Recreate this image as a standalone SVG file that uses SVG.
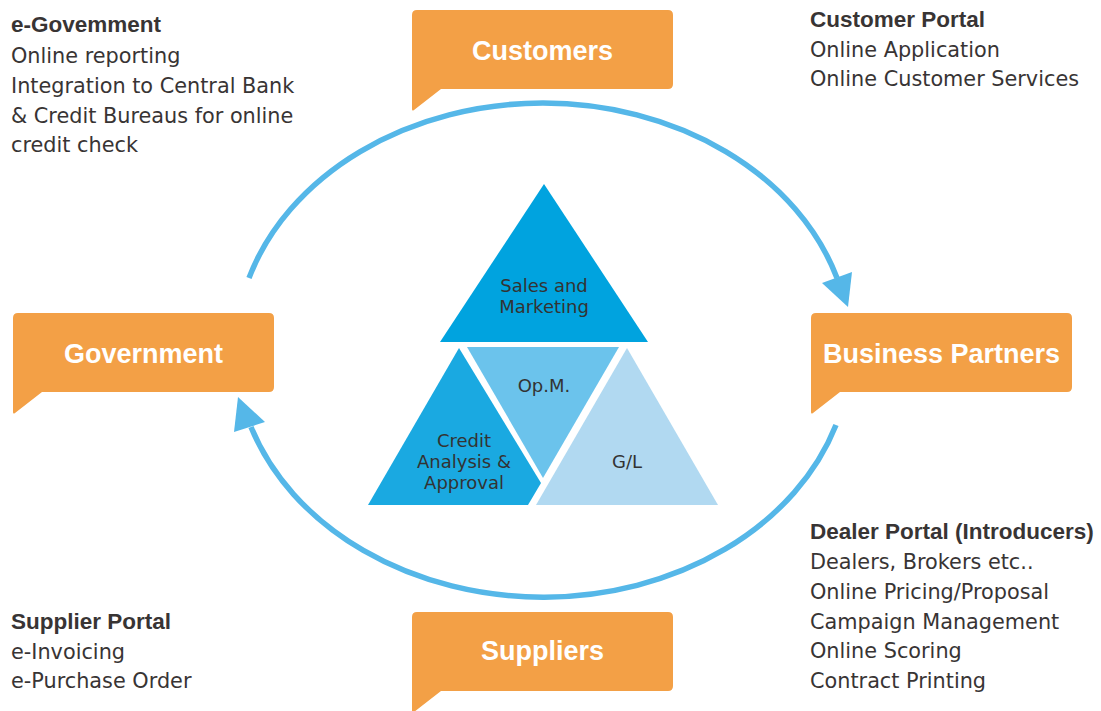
<svg xmlns="http://www.w3.org/2000/svg" width="1101" height="711" viewBox="0 0 1101 711">
<style>
.box{fill:#f3a046}
.blab{font-family:"Liberation Sans",Arial,sans-serif;font-weight:bold;font-size:27px;fill:#ffffff;text-anchor:middle}
.hd{font-family:"Liberation Sans",Arial,sans-serif;font-weight:bold;font-size:22.5px;fill:#383434}
.tx{font-family:"DejaVu Sans",sans-serif;font-size:20.8px;fill:#383434}
.tri{font-family:"DejaVu Sans",sans-serif;font-size:18px;fill:#333333;text-anchor:middle}
.arc{fill:none;stroke:#55b7e8;stroke-width:5.5}
.ah{fill:#55b7e8}
</style>
<defs>
<path id="bubble" d="M5,0 H256 Q261,0 261,5 V74 Q261,79 256,79 H29 L2,100 Q0,101.5 0,99 V5 Q0,0 5,0 Z"/>
</defs>

<g id="connectors">
<path class="arc" d="M249,278 A307.5,247.5 0 0 1 837,278"/>
<polygon class="ah" points="822,283 852,272 848,307"/>
<path class="arc" d="M836,425 A307.5,247.5 0 0 1 251,427"/>
<polygon class="ah" points="234,432 265,422 238,397"/>
</g>

<g id="customers">
<use href="#bubble" class="box" transform="translate(412,10)"/>
<text class="blab" x="542.5" y="60">Customers</text>
</g>
<g id="government">
<use href="#bubble" class="box" transform="translate(13,313)"/>
<text class="blab" x="143.5" y="363">Government</text>
</g>
<g id="business-partners">
<use href="#bubble" class="box" transform="translate(811,313)"/>
<text class="blab" x="941.5" y="363">Business Partners</text>
</g>
<g id="suppliers">
<use href="#bubble" class="box" transform="translate(412,612)"/>
<text class="blab" x="542.5" y="660">Suppliers</text>
</g>

<g id="sales-marketing">
<polygon points="544,184 648,342 440,342" fill="#00a3df"/>
<text class="tri" x="544" y="292">Sales and</text>
<text class="tri" x="544" y="313">Marketing</text>
</g>
<g id="opm">
<polygon points="467,347 619,347 543,478" fill="#6bc3ec"/>
<text class="tri" x="544" y="392">Op.M.</text>
</g>
<g id="credit">
<polygon points="459,348 541,483 528,505 368,505" fill="#1aa9e1"/>
<text class="tri" x="464" y="447">Credit</text>
<text class="tri" x="464" y="468">Analysis &amp;</text>
<text class="tri" x="464" y="489">Approval</text>
</g>
<g id="gl">
<polygon points="627,348 718,505 536,505" fill="#b1d9f1"/>
<text class="tri" x="627" y="468">G/L</text>
</g>

<g id="egov-text">
<text class="hd" x="11" y="32">e-Govemment</text>
<text class="tx" x="11" y="63">Online reporting</text>
<text class="tx" x="11" y="93">Integration to Central Bank</text>
<text class="tx" x="11" y="123">&amp; Credit Bureaus for online</text>
<text class="tx" x="11" y="152">credit check</text>
</g>
<g id="customer-portal-text">
<text class="hd" x="810" y="27">Customer Portal</text>
<text class="tx" x="810" y="57">Online Application</text>
<text class="tx" x="810" y="86">Online Customer Services</text>
</g>
<g id="dealer-portal-text">
<text class="hd" x="810" y="539">Dealer Portal (Introducers)</text>
<text class="tx" x="810" y="569">Dealers, Brokers etc..</text>
<text class="tx" x="810" y="599">Online Pricing/Proposal</text>
<text class="tx" x="810" y="629">Campaign Management</text>
<text class="tx" x="810" y="658">Online Scoring</text>
<text class="tx" x="810" y="688">Contract Printing</text>
</g>
<g id="supplier-portal-text">
<text class="hd" x="11" y="629">Supplier Portal</text>
<text class="tx" x="11" y="659">e-Invoicing</text>
<text class="tx" x="11" y="688">e-Purchase Order</text>
</g>
</svg>
